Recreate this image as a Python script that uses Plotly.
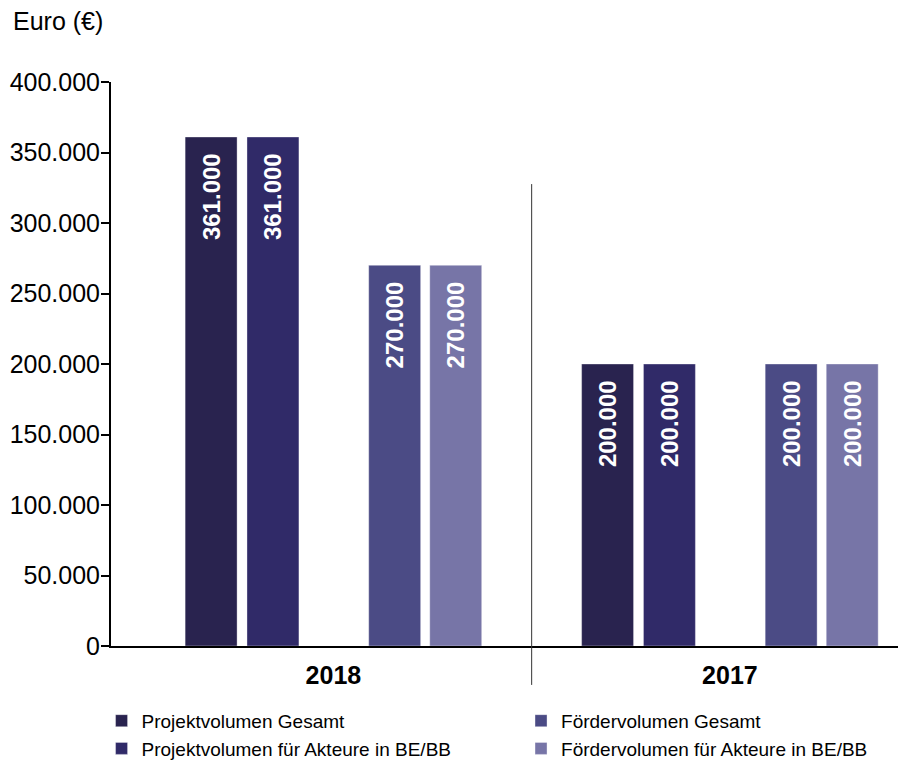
import plotly.graph_objects as go

categories = ["2018", "2017"]
series_names = [
    "Projektvolumen Gesamt",
    "Projektvolumen für Akteure in BE/BB",
    "Fördervolumen Gesamt",
    "Fördervolumen für Akteure in BE/BB",
]
projekt_gesamt = [361000, 200000]
projekt_bebb = [361000, 200000]
foerder_gesamt = [270000, 200000]
foerder_bebb = [270000, 200000]
tick_values = [0, 50000, 100000, 150000, 200000, 250000, 300000, 350000, 400000]


def de(v):
    return f"{v:,}".replace(",", ".")


tick_text = [de(v) for v in tick_values]

colors = ["#29234f", "#302a68", "#4b4b85", "#7775a7"]
offsets = [-0.374, -0.218, 0.089, 0.243]
legends = ["legend", "legend", "legend2", "legend2"]
series = [projekt_gesamt, projekt_bebb, foerder_gesamt, foerder_bebb]

BASE = "Liberation Sans, Arial, sans-serif"

fig = go.Figure()
for name, vals, col, off, lg in zip(series_names, series, colors, offsets, legends):
    fig.add_trace(go.Bar(
        x=categories, y=vals, name=name,
        marker=dict(color=col, line=dict(color="rgba(255,255,255,0.35)", width=1)),
        width=0.131, offset=off,
        text=[de(v) + "\u00a0\u00a0" for v in vals], textposition="inside",
        insidetextanchor="end",
        textangle=-90, textfont=dict(color="white", size=24, family=BASE, weight="bold"),
        legend=lg,
    ))

fig.add_shape(type="line", xref="x", yref="paper", x0=0.5, x1=0.5,
              y0=-0.069, y1=0.819, line=dict(color="#333333", width=1))

fig.add_annotation(text="Euro (€)", xref="paper", yref="paper", x=-0.127, y=1.108,
                   xanchor="left", yanchor="middle", showarrow=False,
                   font=dict(size=25, color="black", family=BASE))

legend_common = dict(orientation="v", xanchor="left", y=-0.099, yanchor="top",
                     traceorder="normal", font=dict(size=19, family=BASE),
                     tracegroupgap=0, bgcolor="rgba(0,0,0,0)")

fig.update_layout(
    width=904, height=752,
    margin=dict(l=103, r=14, t=74, b=114, autoexpand=False),
    paper_bgcolor="white", plot_bgcolor="white",
    barmode="overlay",
    font=dict(family=BASE, color="black"),
    showlegend=True,
    legend=dict(x=-0.012, **legend_common),
    legend2=dict(x=0.521, **legend_common),
)
fig.update_xaxes(range=[-0.561, 1.424], showline=True, linecolor="black", linewidth=2,
                 ticks="", tickfont=dict(size=25, family=BASE, weight="bold"),
                 ticklabelstandoff=6,
                 showgrid=False, zeroline=False, automargin=False)
fig.update_yaxes(range=[0, 400000], tickvals=tick_values, ticktext=tick_text,
                 showline=True, linecolor="black", linewidth=2, ticks="outside",
                 ticklen=8, tickwidth=2, tickcolor="black", showgrid=False, zeroline=False,
                 tickfont=dict(size=25, family=BASE), ticklabelstandoff=-4,
                 automargin=False)

fig.write_html("out.html")
